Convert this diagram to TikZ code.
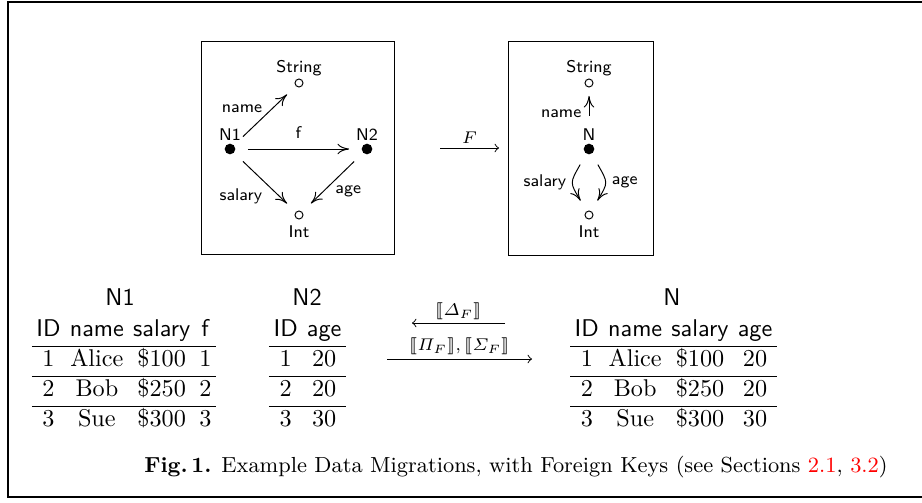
\documentclass[tikz,border=0pt]{standalone}
\usepackage{amsmath,amsfonts,stmaryrd}
\usetikzlibrary{arrows.meta,positioning}

\tikzset{
  obj/.style={circle,fill,inner sep=0pt,minimum size=4.4pt},
  typ/.style={circle,draw,inner sep=0pt,minimum size=3.3pt},
  lbl/.style={font=\sffamily\scriptsize,inner sep=1pt},
  map/.style={-{To[length=4.8pt,width=4.4pt]},shorten <=5pt,shorten >=5pt},
  mig/.style={->,>=to},
  datatab/.style={inner sep=0pt,anchor=north},
}
\setlength{\tabcolsep}{1.9pt}

\begin{document}
\begin{tikzpicture}[x=0.413pt,y=-0.413pt]
\useasboundingbox (0,0) rectangle (922,502);
\draw[line width=0.5pt] (922,2) -- (8,2) -- (8,497) -- (922,497);

% source schema
\draw (201,41) rectangle (394,254);
\node[typ,label={[lbl]above:String}] (str1) at (299,83) {};
\node[obj,label={[lbl]above:N1}] (n1) at (230,149) {};
\node[obj,label={[lbl]above:N2}] (n2) at (367,149) {};
\node[typ,label={[lbl,label distance=1.5pt]below:Int}] (int1) at (299,215) {};
\draw[map] (n1) -- node[lbl,above left] (lname1) {name} (str1);
\draw[map] (n1) -- node[lbl,above=3pt] (lf) {f} (n2);
\draw[map] (n1) -- node[lbl,below left,yshift=-1.5pt] (lsal1) {salary} (int1);
\draw[map] (n2) -- node[lbl,below right] (lage1) {age} (int1);

% the functor
\coordinate (fs) at (440,148);
\coordinate (ft) at (499,148);
\draw[mig] (fs) -- node[above,font=\scriptsize,inner sep=1.5pt] (lF) {$F$} (ft);

% target schema
\draw (508,41) rectangle (653,255);
\node[typ,label={[lbl]above:String}] (str2) at (589,83) {};
\node[obj] (n) at (589,149) {};
\node[lbl,above=0pt of n] (nlbl) {N};
\node[typ,label={[lbl,label distance=1.5pt]below:Int}] (int2) at (589,215) {};
\draw[map,shorten <=4pt,shorten >=3.5pt] (nlbl) -- node[lbl,left=2pt,pos=0.3] (lname2) {name} (str2);
\draw[map] (n) to[bend right=30,looseness=1.5] node[lbl,left=2pt] (lsal2) {salary} (int2);
\draw[map] (n) to[bend left=30,looseness=1.5] node[lbl,right=2pt] (lage2) {age} (int2);

% instances
\node[font=\sffamily] (t1) at (120,297) {N1};
\node[datatab] (d1) at (124,316) {\begin{tabular}{cccc}
  \textsf{ID} & \textsf{name} & \textsf{salary} & \textsf{f}\\\hline
  1 & Alice & \$100 & 1\\\hline
  2 & Bob & \$250 & 2\\\hline
  3 & Sue & \$300 & 3
\end{tabular}};

\node[font=\sffamily] (t2) at (307,297) {N2};
\node[datatab] (d2) at (307.5,316) {\begin{tabular}{cc}
  \textsf{ID} & \textsf{age}\\\hline
  1 & 20\\\hline
  2 & 20\\\hline
  3 & 30
\end{tabular}};

\node[font=\sffamily] (t3) at (672,297) {N};
\node[datatab] (d3) at (673.5,316) {\begin{tabular}{cccc}
  \textsf{ID} & \textsf{name} & \textsf{salary} & \textsf{age}\\\hline
  1 & Alice & \$100 & 20\\\hline
  2 & Bob & \$250 & 20\\\hline
  3 & Sue & \$300 & 30
\end{tabular}};

% migrations
\coordinate (dl) at (412,323);
\coordinate (dr) at (505,323);
\draw[mig] (dr) -- node[above,font=\scriptsize,inner sep=1pt] (ldelta) {$\llbracket\varDelta_F\rrbracket$} (dl);
\coordinate (pl) at (387,359);
\coordinate (pr) at (532,359);
\draw[mig] (pl) -- node[above,font=\scriptsize,inner sep=1.5pt] (lpisig) {$\llbracket\varPi_F\rrbracket,\llbracket\varSigma_F\rrbracket$} (pr);

% caption
\node[font=\small] (cap) at (516,467) {\textbf{Fig.\,1.} Example Data Migrations, with Foreign Keys (see Sections \textcolor{red}{2.1}, \textcolor{red}{3.2})};
\end{tikzpicture}
\end{document}
